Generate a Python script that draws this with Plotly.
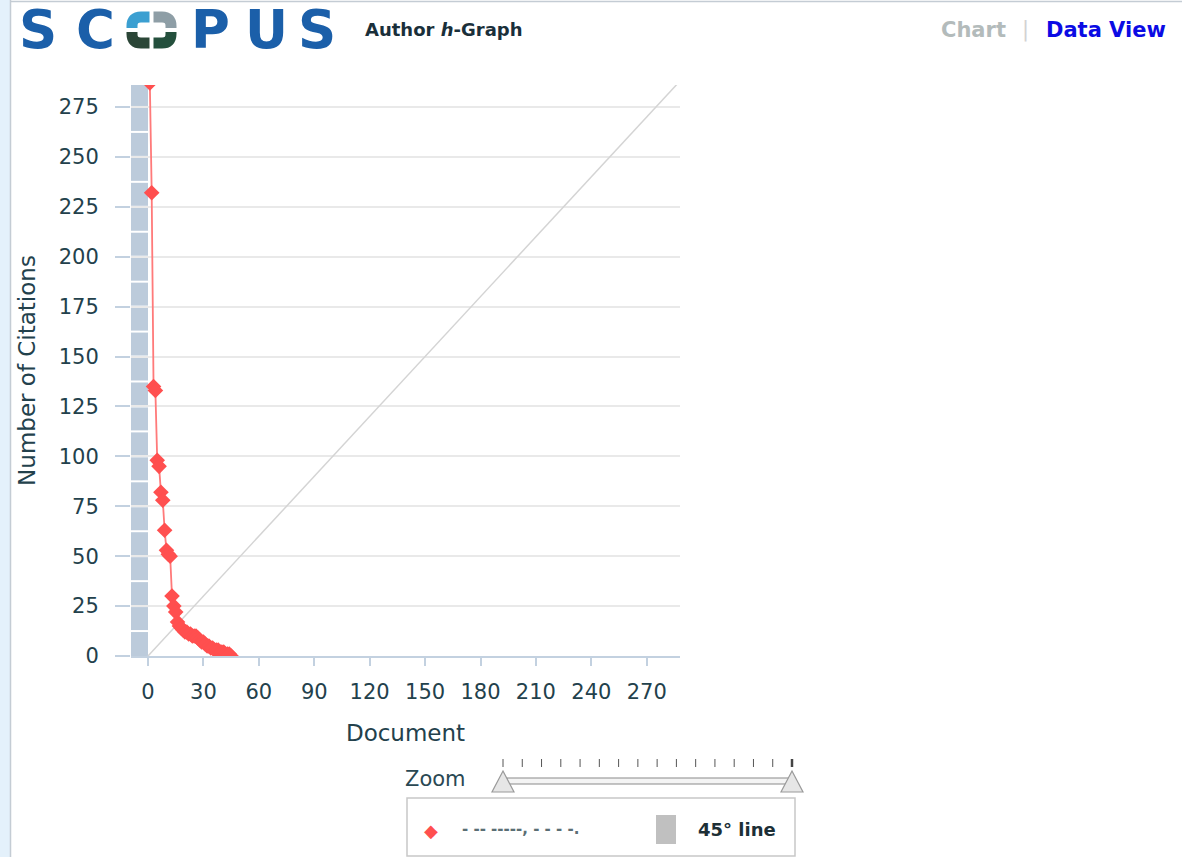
import plotly.graph_objects as go

# ---------------- data ----------------
citations = [287, 232, 135, 133, 98, 95, 82, 78, 63, 53, 51, 50, 30, 25, 22,
             17, 15, 14, 13, 12, 12, 11, 11, 10, 10, 10, 9, 8, 7, 7,
             6, 5, 5, 4, 4, 3, 3, 3, 2, 2, 2, 1, 1, 1, 0]
documents = list(range(1, len(citations) + 1))
diag = [0, 288]
y_ticks = list(range(0, 276, 25))
x_ticks = list(range(0, 271, 30))
series_name = "‐ ‐‐ ‐‐‐‐‐, ‐ ‐ ‐ ‐."
diag_name = "45° line"

# ---------------- geometry helpers ----------------
W, H = 1182, 857
PL, PR, PT, PB = 131, 680, 85, 656
XR = [-9.2, 288]
YR = [0, 286]


def px(x):
    return (x - PL) / (PR - PL)


def py(y):
    return (PB - y) / (PB - PT)


def P(x, y):
    return f"{px(x):.5f},{py(y):.5f}"


fig = go.Figure()

# 45 degree line
fig.add_trace(go.Scatter(x=diag, y=diag, mode="lines",
                         line=dict(color="#d4d4d4", width=1.5),
                         hoverinfo="skip", showlegend=False))
# series
fig.add_trace(go.Scatter(x=documents, y=citations, mode="lines+markers",
                         name=series_name,
                         line=dict(color="#ff7a7a", width=1.8),
                         marker=dict(symbol="diamond", size=12, color="#ff4f4f",
                                     line=dict(width=0)),
                         showlegend=False))

shapes = []
annotations = []

# shaded band at left of plot
shapes.append(dict(type="rect", xref="x", yref="y", x0=XR[0], x1=0, y0=YR[0], y1=YR[1],
                   fillcolor="#bccbdb", line=dict(width=0), layer="below"))
k = 12.5
while k < YR[1]:
    shapes.append(dict(type="line", xref="x", yref="y", x0=XR[0], x1=0, y0=k, y1=k,
                       line=dict(color="white", width=2), layer="below"))
    k += 12.5

# page frame
shapes.append(dict(type="rect", xref="paper", yref="paper", x0=px(0), x1=px(10), y0=py(H), y1=py(0),
                   fillcolor="#e4f1fb", line=dict(width=0), layer="below"))
shapes.append(dict(type="line", xref="paper", yref="paper", x0=px(10.5), x1=px(10.5), y0=py(H), y1=py(0),
                   line=dict(color="#c4ccd4", width=1.5)))
shapes.append(dict(type="line", xref="paper", yref="paper", x0=px(10), x1=px(W), y0=py(1.5), y1=py(1.5),
                   line=dict(color="#c4ccd4", width=1.5)))

# ---------------- logo ----------------
logo_blue = "#1b5fa9"
for letter, cx in [("S", 38), ("C", 95), ("P", 210), ("U", 266), ("S", 317)]:
    annotations.append(dict(text=letter, xref="paper", yref="paper", x=px(cx), y=py(30),
                            xanchor="center", yanchor="middle", showarrow=False,
                            font=dict(family="DejaVu Sans", size=53, color=logo_blue, weight="bold")))

# O made of four quadrants
cx0, cx1, cy0, cy1 = 132, 171, 17, 43
mx, my = 151.5, 30
r = 9
quads = [
    (f"M {P(mx-2, cy0)} L {P(cx0+r, cy0)} Q {P(cx0, cy0)} {P(cx0, cy0+r)} L {P(cx0, my-2)}", "#3b9fd1"),
    (f"M {P(mx+2, cy0)} L {P(cx1-r, cy0)} Q {P(cx1, cy0)} {P(cx1, cy0+r)} L {P(cx1, my-2)}", "#8e9ea6"),
    (f"M {P(mx-2, cy1)} L {P(cx0+r, cy1)} Q {P(cx0, cy1)} {P(cx0, cy1-r)} L {P(cx0, my+2)}", "#2b4637"),
    (f"M {P(mx+2, cy1)} L {P(cx1-r, cy1)} Q {P(cx1, cy1)} {P(cx1, cy1-r)} L {P(cx1, my+2)}", "#24503d"),
]
for d, c in quads:
    shapes.append(dict(type="path", xref="paper", yref="paper", path=d,
                       line=dict(color=c, width=11)))

annotations.append(dict(text="Author <i>h</i>-Graph", xref="paper", yref="paper", x=px(363), y=py(30),
                        xanchor="left", yanchor="middle", showarrow=False,
                        font=dict(family="DejaVu Sans", size=18, color="#1a2f3a", weight="bold")))

# header links
annotations.append(dict(text="Chart", xref="paper", yref="paper", x=px(1008), y=py(30),
                        xanchor="right", yanchor="middle", showarrow=False,
                        font=dict(family="DejaVu Sans", size=21, color="#b3bbbb", weight="bold")))
annotations.append(dict(text="|", xref="paper", yref="paper", x=px(1025), y=py(30),
                        xanchor="center", yanchor="middle", showarrow=False,
                        font=dict(family="DejaVu Sans", size=21, color="#d2d2d2")))
annotations.append(dict(text="Data View", xref="paper", yref="paper", x=px(1044), y=py(30),
                        xanchor="left", yanchor="middle", showarrow=False,
                        font=dict(family="DejaVu Sans", size=21, color="#0b0be4", weight="bold")))

# ---------------- zoom slider ----------------
annotations.append(dict(text="Zoom", xref="paper", yref="paper", x=px(468), y=py(779),
                        xanchor="right", yanchor="middle", showarrow=False,
                        font=dict(family="DejaVu Sans", size=21, color="#2a4853")))
n_ticks = 16
for i in range(n_ticks):
    tx = 503 + i * (792 - 503) / (n_ticks - 1)
    shapes.append(dict(type="line", xref="paper", yref="paper", x0=px(tx), x1=px(tx),
                       y0=py(759), y1=py(767),
                       line=dict(color="#555555" if i < n_ticks - 1 else "#444444",
                                 width=1 if i < n_ticks - 1 else 2.5)))
shapes.append(dict(type="rect", xref="paper", yref="paper", x0=px(507), x1=px(790),
                   y0=py(784), y1=py(778), fillcolor="#f4f4f4",
                   line=dict(color="#8a8a8a", width=1.2)))
for hx in (503, 792):
    d = f"M {P(hx, 771)} L {P(hx+11, 792)} L {P(hx-11, 792)} Z"
    shapes.append(dict(type="path", xref="paper", yref="paper", path=d,
                       fillcolor="#e6e6e6", line=dict(color="#9a9a9a", width=1.2)))

# ---------------- legend box ----------------
shapes.append(dict(type="rect", xref="paper", yref="paper", x0=px(407), x1=px(795),
                   y0=py(856), y1=py(798), fillcolor="white",
                   line=dict(color="#c8c8c8", width=1.5)))
annotations.append(dict(text="◆", xref="paper", yref="paper", x=px(431), y=py(830),
                        xanchor="center", yanchor="middle", showarrow=False,
                        font=dict(family="DejaVu Sans", size=18, color="#ff4f4f")))
annotations.append(dict(text=series_name, xref="paper", yref="paper", x=px(460), y=py(829),
                        xanchor="left", yanchor="middle", showarrow=False,
                        font=dict(family="DejaVu Sans", size=15, color="#5a6e74", weight="bold")))
shapes.append(dict(type="rect", xref="paper", yref="paper", x0=px(656), x1=px(676),
                   y0=py(844), y1=py(815), fillcolor="#c0c0c0", line=dict(width=0)))
annotations.append(dict(text=diag_name, xref="paper", yref="paper", x=px(696), y=py(829),
                        xanchor="left", yanchor="middle", showarrow=False,
                        font=dict(family="DejaVu Sans", size=18, color="#1d2f36", weight="bold")))

axis_color = "#c3d1e0"
tick_font = dict(family="DejaVu Sans", size=21, color="#23414c")

fig.update_layout(
    width=W, height=H, autosize=False,
    margin=dict(l=PL, r=W - PR, t=PT, b=H - PB, pad=0),
    paper_bgcolor="white", plot_bgcolor="white",
    showlegend=False,
    shapes=shapes, annotations=annotations,
    xaxis=dict(range=XR, tickmode="array", tickvals=x_ticks, ticktext=[str(v) for v in x_ticks],
               showgrid=False, zeroline=False, showline=True, linecolor=axis_color, linewidth=2,
               ticks="outside", ticklen=8, tickcolor=axis_color, tickwidth=2,
               tickfont=tick_font, ticklabelstandoff=8,
               title=dict(text="Document", standoff=22,
                          font=dict(family="DejaVu Sans", size=23, color="#23414c"))),
    yaxis=dict(range=YR, tickmode="array", tickvals=y_ticks, ticktext=[str(v) for v in y_ticks],
               showgrid=True, gridcolor="#e9e9e9", gridwidth=1.5, zeroline=False, showline=False,
               ticks="outside", ticklen=15, tickcolor=axis_color, tickwidth=2,
               tickfont=tick_font, ticklabelstandoff=12,
               title=dict(text="Number of Citations", standoff=16,
                          font=dict(family="DejaVu Sans", size=23, color="#23414c"))),
)

fig.write_html("out.html", post_script="document.body.style.margin='0';",
               config={"displayModeBar": False})
